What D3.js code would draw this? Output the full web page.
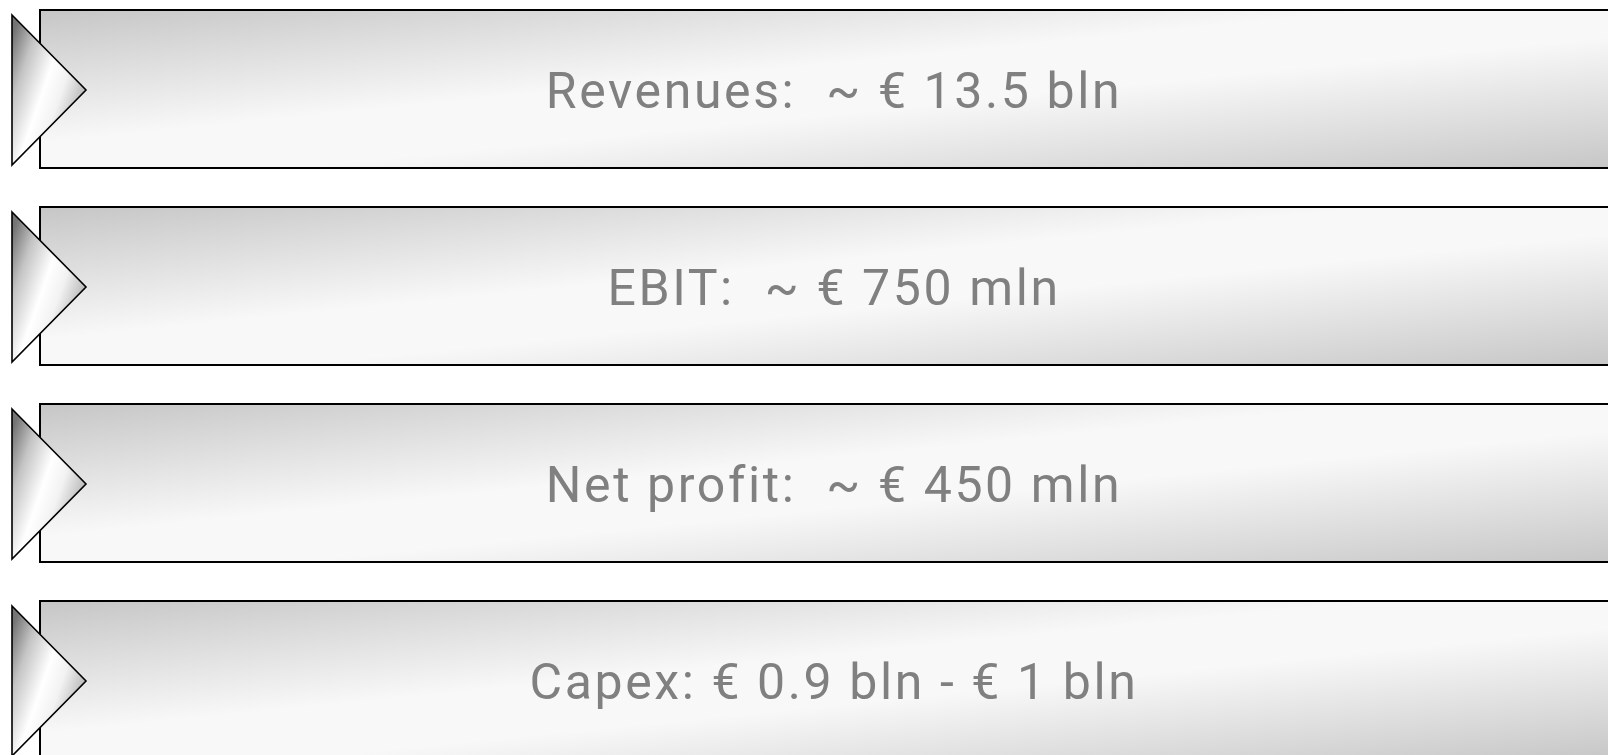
<!DOCTYPE html>
<html>
<head>
<meta charset="utf-8">
<script src="https://cdn.jsdelivr.net/npm/d3@7"></script>
<style>
    html, body { margin: 0; padding: 0; background: #fff; overflow: hidden; }
    svg { display: block; }
    .label { font-family: Roboto, "Liberation Sans", Arial, sans-serif; white-space: pre; }
</style>
</head>
<body>
<svg id="chart"></svg>
<script>
// ------- the four key figures -------
var metrics = ["Revenues:", "EBIT:", "Net profit:", "Capex:"];
var figures = ["~ € 13.5 bln", "~ € 750 mln", "~ € 450 mln", "€ 0.9 bln - € 1 bln"];
var gaps = ["  ", "  ", "  ", " "];

var width = 1608;
var height = 755;

var svg = d3.select("#chart")
    .attr("width", width)
    .attr("height", height);

var defs = svg.append("defs");

// box shading: grey corners, white along the diagonal
var boxGrad = defs.append("linearGradient")
    .attr("id", "boxGrad")
    .attr("x1", 0).attr("y1", 0)
    .attr("x2", 1).attr("y2", 1);
boxGrad.append("stop").attr("offset", 0).attr("stop-color", "#c6c6c6");
boxGrad.append("stop").attr("offset", 0.42).attr("stop-color", "#f8f8f8");
boxGrad.append("stop").attr("offset", 0.58).attr("stop-color", "#f8f8f8");
boxGrad.append("stop").attr("offset", 1).attr("stop-color", "#c6c6c6");

// arrow shading
var triGrad = defs.append("linearGradient")
    .attr("id", "triGrad")
    .attr("x1", 0).attr("y1", 0.15)
    .attr("x2", 1).attr("y2", 0.85);
triGrad.append("stop").attr("offset", 0).attr("stop-color", "#747474");
triGrad.append("stop").attr("offset", 0.2).attr("stop-color", "#c4c4c4");
triGrad.append("stop").attr("offset", 0.45).attr("stop-color", "#ffffff");
triGrad.append("stop").attr("offset", 0.62).attr("stop-color", "#f2f2f2");
triGrad.append("stop").attr("offset", 1).attr("stop-color", "#8e8e8e");

var y = d3.scaleBand()
    .domain(metrics)
    .range([10, 759])
    .paddingInner(0.198);

var boxLeft = 40;
var boxRight = 1628;
var fontSize = 50;

var rows = svg.selectAll("g.row")
    .data(metrics)
    .enter()
    .append("g")
    .attr("class", "row")
    .attr("transform", function (d) {
        return "translate(0," + y(d) + ")";
    });

rows.append("rect")
    .attr("x", boxLeft)
    .attr("y", 0)
    .attr("width", boxRight - boxLeft)
    .attr("height", y.bandwidth())
    .style("fill", "url(#boxGrad)")
    .style("stroke", "#000")
    .style("stroke-width", 2);

// arrow head on the left edge
var half = 75;
rows.append("path")
    .attr("d", function () {
        var cy = y.bandwidth() / 2 + 1;
        return "M12," + (cy - half) + "L" + (12 + half - 1) + "," + cy + "L12," + (cy + half) + "Z";
    })
    .style("fill", "url(#triGrad)")
    .style("stroke", "#000")
    .style("stroke-width", 1.6)
    .style("stroke-linejoin", "miter");

rows.append("text")
    .attr("class", "label")
    .attr("x", (boxLeft + boxRight) / 2)
    .attr("y", y.bandwidth() / 2 + fontSize * 0.711 / 2 + 1)
    .attr("text-anchor", "middle")
    .style("font-size", fontSize + "px")
    .style("letter-spacing", "2.6px")
    .style("fill", "#808080")
    .text(function (d, i) {
        return d + gaps[i] + figures[i];
    });
</script>
</body>
</html>
